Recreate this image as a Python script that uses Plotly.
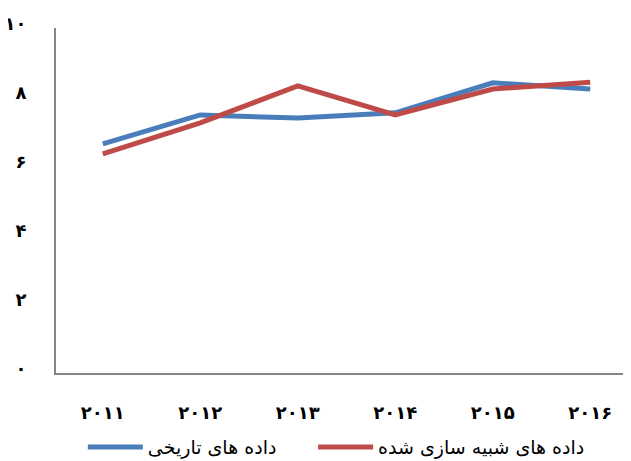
import plotly.graph_objects as go

years = ["۲۰۱۱", "۲۰۱۲", "۲۰۱۳", "۲۰۱۴", "۲۰۱۵", "۲۰۱۶"]
historical = [6.64, 7.48, 7.39, 7.54, 8.41, 8.23]
simulated = [6.35, 7.25, 8.32, 7.48, 8.23, 8.43]
y_ticks = [0, 2, 4, 6, 8, 10]
y_tick_labels = ["۰", "۲", "۴", "۶", "۸", "۱۰"]
name_hist = "داده های تاریخی"
name_sim = "داده های شبیه سازی شده"

x_idx = list(range(len(years)))

fig = go.Figure()
fig.add_trace(go.Scatter(x=x_idx, y=historical, mode="lines", name=name_hist,
                         line=dict(color="#4A7EBB", width=5), legend="legend"))
fig.add_trace(go.Scatter(x=x_idx, y=simulated, mode="lines", name=name_sim,
                         line=dict(color="#BE4B48", width=5), legend="legend2"))

font_family = "DejaVu Serif, DejaVu Sans, serif"
legend_common = dict(orientation="h", xanchor="left", y=-0.215, yanchor="middle",
                     itemwidth=55, bgcolor="rgba(0,0,0,0)",
                     font=dict(family=font_family, size=19, color="black"))
fig.update_layout(
    width=631, height=461,
    margin=dict(l=48, r=0, t=20, b=96, autoexpand=False),
    paper_bgcolor="white", plot_bgcolor="white",
    showlegend=True,
    legend=dict(x=0.046, **legend_common),
    legend2=dict(x=0.441, **legend_common),
    font=dict(family=font_family, color="black"),
)
fig.update_xaxes(
    tickmode="array", tickvals=x_idx, ticktext=years,
    range=[-0.48, 5.50], showgrid=False, zeroline=False,
    showline=True, linecolor="#868686", linewidth=2,
    ticks="", ticklabelstandoff=22, automargin=False,
    tickfont=dict(family=font_family, size=18, color="black", weight="bold"),
)
fig.update_yaxes(
    tickmode="array", tickvals=y_ticks, ticktext=y_tick_labels,
    range=[0, 10], showgrid=False, zeroline=False,
    showline=True, linecolor="#868686", linewidth=2,
    ticks="", ticklabelstandoff=24, ticklabelshift=-4, automargin=False,
    ticklabeloverflow="allow",
    tickfont=dict(family=font_family, size=18, color="black", weight="bold"),
)

fig.write_html("out.html")
